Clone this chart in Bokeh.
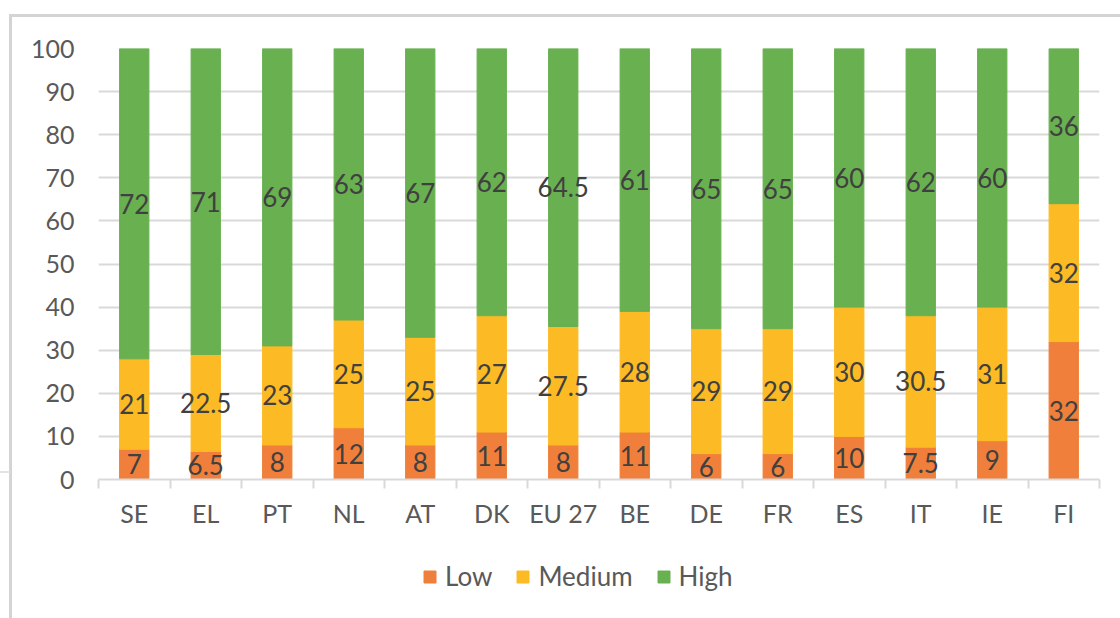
from bokeh.plotting import figure
from bokeh.layouts import column
from bokeh.models import (Range1d, FixedTicker, Legend, LegendItem, ColumnDataSource,
                          InlineStyleSheet)
from bokeh.core.properties import value
from bokeh.embed import file_html
from bokeh.resources import INLINE

categories = ["SE", "EL", "PT", "NL", "AT", "DK", "EU 27", "BE", "DE", "FR", "ES", "IT", "IE", "FI"]
low = [7, 6.5, 8, 12, 8, 11, 8, 11, 6, 6, 10, 7.5, 9, 32]
medium = [21, 22.5, 23, 25, 25, 27, 27.5, 28, 29, 29, 30, 30.5, 31, 32]
high = [72, 71, 69, 63, 67, 62, 64.5, 61, 65, 65, 60, 62, 60, 36]
series_names = ["Low", "Medium", "High"]
y_ticks = list(range(0, 101, 10))

colors = ["#EF7F3A", "#FCBA25", "#69B050"]
FONT = "Lato"
n = len(categories)
xs = [i + 0.5 for i in range(n)]

src = ColumnDataSource(dict(x=xs, low=low, medium=medium, high=high))

p = figure(width=1120, height=548, x_range=Range1d(0, n), y_range=Range1d(0, 100),
           output_backend="svg", toolbar_location=None,
           min_border_left=98, min_border_right=21, min_border_top=48, min_border_bottom=69)
p.outline_line_color = None
p.background_fill_color = "white"
p.border_fill_color = "white"

rs = p.vbar_stack(["low", "medium", "high"], x="x", width=0.41, color=colors, source=src)

# data labels
lx, ly, lt = [], [], []
for i in range(n):
    b = 0.0
    for v in (low[i], medium[i], high[i]):
        lx.append(xs[i]); ly.append(b + v / 2.0); lt.append(f"{v:g}")
        b += v
p.text(x=lx, y=ly, text=lt, text_align="center", text_baseline="middle",
       text_font=value(FONT), text_font_size="26px", text_color="#404040")

# axes
p.yaxis.ticker = FixedTicker(ticks=y_ticks)
p.yaxis.axis_line_color = None
p.yaxis.major_tick_line_color = None
p.yaxis.minor_tick_line_color = None
p.yaxis.major_tick_out = 0
p.yaxis.major_label_standoff = 24
p.yaxis.major_label_text_font = FONT
p.yaxis.major_label_text_font_size = "25px"
p.yaxis.major_label_text_color = "#595959"

p.xaxis.ticker = FixedTicker(ticks=xs, minor_ticks=list(range(0, n + 1)))
p.xaxis.major_label_overrides = {x: c for x, c in zip(xs, categories)}
p.xaxis.axis_line_color = "#d9d9d9"
p.xaxis.axis_line_width = 2
p.xaxis.major_tick_line_color = None
p.xaxis.major_tick_out = 0
p.xaxis.minor_tick_line_color = "#d9d9d9"
p.xaxis.minor_tick_line_width = 2
p.xaxis.minor_tick_out = 9
p.xaxis.minor_tick_in = 0
p.xaxis.major_label_standoff = 9
p.xaxis.major_label_text_font = FONT
p.xaxis.major_label_text_font_size = "25px"
p.xaxis.major_label_text_color = "#595959"

p.xgrid.grid_line_color = None
p.ygrid.ticker = FixedTicker(ticks=y_ticks)
p.ygrid.grid_line_color = "#d9d9d9"
p.ygrid.grid_line_width = 2

p.stylesheets = [InlineStyleSheet(css=""":host { position: relative; }
:host::after { content: ''; position: absolute; left: 9px; top: 14px; right: 0; bottom: 0;
  border-top: 3px solid #d4d4d4; border-left: 3px solid #d4d4d4; pointer-events: none; }
:host::before { content: ''; position: absolute; left: 0; top: 471px; width: 10px; height: 2px;
  background: #e2e2e2; pointer-events: none; z-index: 5; }""")]

# legend strip
lg = figure(width=1120, height=70, x_range=Range1d(0, 1), y_range=Range1d(0, 1),
            output_backend="svg", toolbar_location=None,
            x_axis_location=None, y_axis_location=None,
            min_border_left=0, min_border_right=0, min_border_top=0, min_border_bottom=0)
lg.grid.visible = False
lg.outline_line_color = None
# zero-size proxies, only used to draw the legend swatches
proxies = [lg.rect(x=[0.5], y=[0.5], width=0, height=0, color=c) for c in colors]
legend = Legend(items=[LegendItem(label=s, renderers=[r]) for s, r in zip(series_names, proxies)],
                orientation="horizontal", location=(324, 26),
                glyph_width=15, glyph_height=15, label_standoff=8, spacing=23,
                padding=0, margin=0, border_line_color=None, background_fill_alpha=0,
                label_text_font=FONT, label_text_font_size="26px", label_text_color="#595959")
lg.add_layout(legend, "center")
lg.stylesheets = [InlineStyleSheet(css=""":host { position: relative; }
:host::after { content: ''; position: absolute; left: 9px; top: 0; bottom: 0; width: 0;
  border-left: 3px solid #d4d4d4; pointer-events: none; }""")]

layout = column(p, lg, spacing=0)
open("out.html", "w").write(file_html(layout, INLINE))
